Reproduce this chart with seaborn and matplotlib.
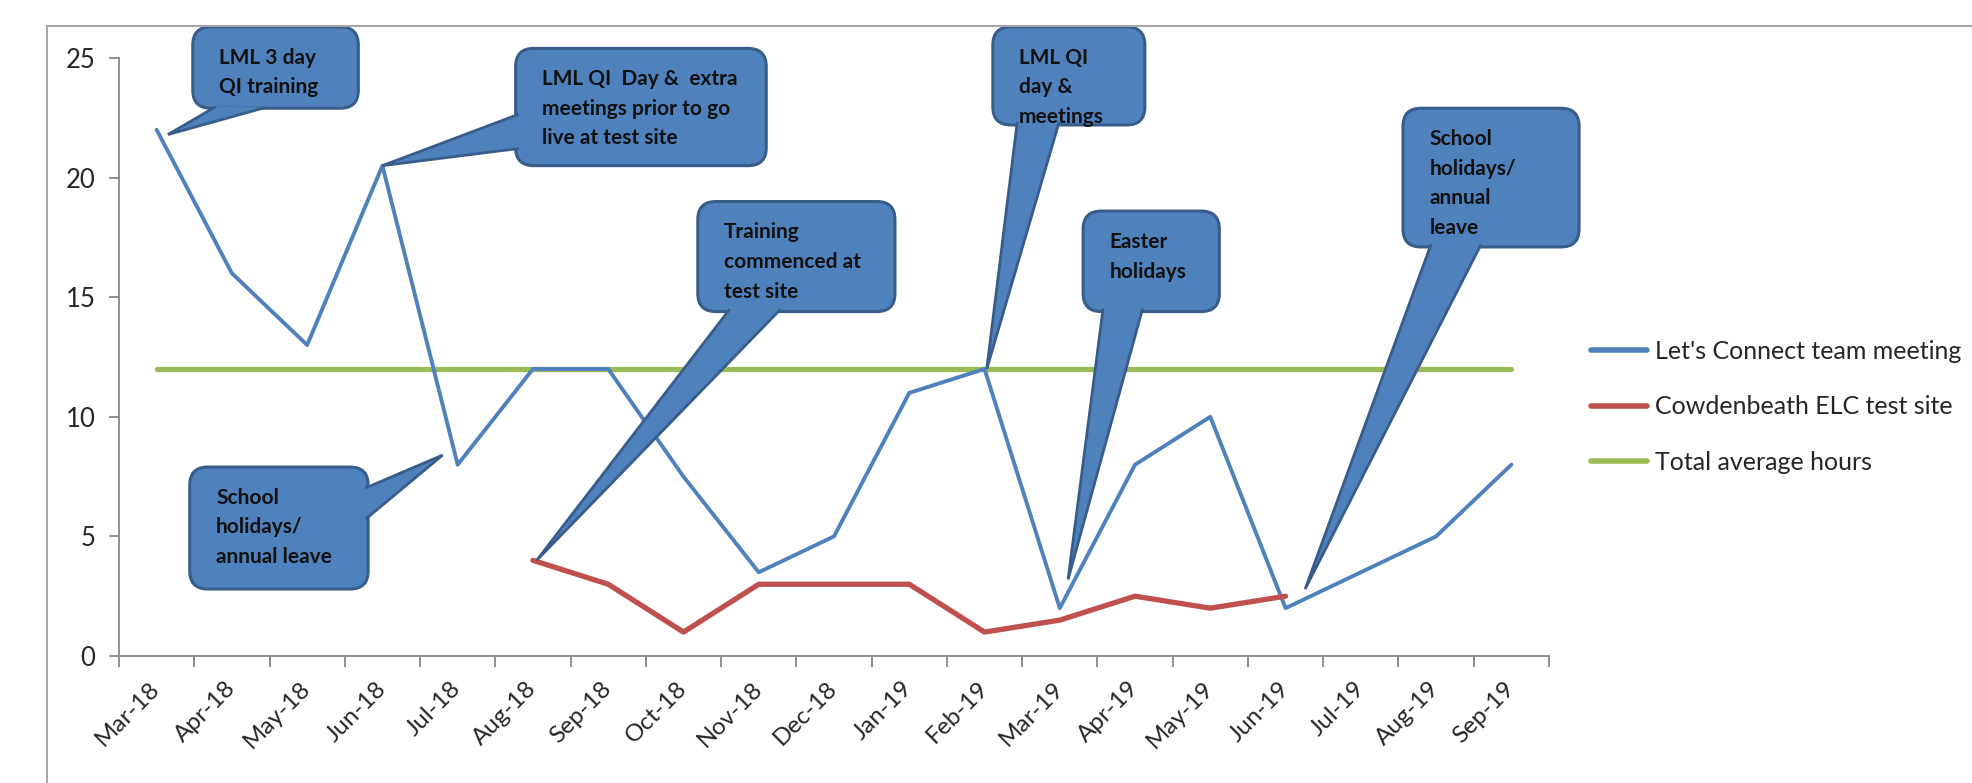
import matplotlib
matplotlib.use("Agg")
import matplotlib.pyplot as plt
from matplotlib.patches import FancyBboxPatch, Polygon
from matplotlib.lines import Line2D
import seaborn as sns
import numpy as np

months = ["Mar-18", "Apr-18", "May-18", "Jun-18", "Jul-18", "Aug-18", "Sep-18",
          "Oct-18", "Nov-18", "Dec-18", "Jan-19", "Feb-19", "Mar-19", "Apr-19",
          "May-19", "Jun-19", "Jul-19", "Aug-19", "Sep-19"]
team_meeting = [22, 16, 13, 20.5, 8, 12, 12, 7.5, 3.5, 5, 11, 12, 2, 8, 10, 2, 3.5, 5, 8]
site_months = ["Aug-18", "Sep-18", "Oct-18", "Nov-18", "Dec-18", "Jan-19",
               "Feb-19", "Mar-19", "Apr-19", "May-19", "Jun-19"]
test_site = [4, 3, 1, 3, 3, 3, 1, 1.5, 2.5, 2, 2.5]
average_hours = [12, 12, 12, 12, 12, 12, 12, 12, 12, 12, 12, 12, 12, 12, 12, 12, 12, 12, 12]

BLUE, RED, GREEN = "#4F81BD", "#C0504D", "#9BBB59"
BOX_FC, BOX_EC = "#4F81BD", "#385D8A"
AXIS_GREY = "#868686"
W, H = 1972, 783

sns.set_style("white")
plt.rcParams["font.family"] = ["Lato", "DejaVu Sans"]

fig = plt.figure(figsize=(W / 100, H / 100), dpi=100)
ax = fig.add_axes([119 / W, 1 - 656 / H, (1549 - 119) / W, (656 - 58) / H])

x_all = np.arange(len(months))
x_site = np.array([months.index(m) for m in site_months])
line_kw = dict(solid_capstyle="round", solid_joinstyle="round", ax=ax)
sns.lineplot(x=x_all, y=team_meeting, color=BLUE, lw=2.8,
             label="Let's Connect team meeting", zorder=3, **line_kw)
sns.lineplot(x=x_site, y=test_site, color=RED, lw=3.8,
             label="Cowdenbeath ELC test site", zorder=3, **line_kw)
sns.lineplot(x=x_all, y=average_hours, color=GREEN, lw=3.8,
             label="Total average hours", zorder=2, **line_kw)

ax.set_xlim(-0.5, len(months) - 0.5)
ax.set_ylim(0, 25)
ax.set_xticks(x_all)
ax.set_xticklabels(months, rotation=45, ha="right", va="center", rotation_mode="anchor")
ax.set_xticks(np.arange(-0.5, len(months), 1), minor=True)
ax.set_yticks(range(0, 26, 5))
ax.tick_params(axis="x", which="major", length=0, pad=21, labelsize=17.5, bottom=True)
ax.tick_params(axis="x", which="minor", length=8, width=1.3, color=AXIS_GREY,
               direction="out", bottom=True)
ax.tick_params(axis="y", length=7, width=1.3, color=AXIS_GREY, direction="out",
               pad=10, labelsize=18.5, left=True)
ax.set_xlabel("")
ax.set_ylabel("")
for side in ["top", "right"]:
    ax.spines[side].set_visible(False)
for side in ["left", "bottom"]:
    ax.spines[side].set_color(AXIS_GREY)
    ax.spines[side].set_linewidth(1.3)

leg = ax.legend(loc="center left", bbox_to_anchor=(1591 / W, 1 - 407 / H),
                bbox_transform=fig.transFigure, frameon=False, fontsize=18,
                handlelength=2.25, handletextpad=0.3, labelspacing=1.3,
                borderaxespad=0, borderpad=0)
for ln in leg.get_lines():
    ln.set_linewidth(4)

# chart-area border (extends past the crop on the right and bottom)
fig.add_artist(Line2D([47 / W, 1], [1 - 26 / H] * 2, transform=fig.transFigure,
                      color="#A6A6A6", lw=1.5))
fig.add_artist(Line2D([47 / W] * 2, [0, 1 - 26 / H], transform=fig.transFigure,
                      color="#A6A6A6", lw=1.5))

# callouts: text, anchor (month, series, dx, dy), box (x0, x1, y0, y1), wedge base
series = {"team": team_meeting, "site": dict(zip(site_months, test_site))}
callouts = [
    ("LML 3 day\nQI training", ("Mar-18", "team", 0.15, -0.2),
     (0.48, 2.68, 22.9, 26.3), [(0.75, 22.9), (1.41, 22.9)]),
    ("LML QI  Day &  extra\nmeetings prior to go\nlive at test site", ("Jun-18", "team", 0, 0),
     (4.77, 8.10, 20.5, 25.4), [(4.77, 22.6), (4.77, 21.2)]),
    ("School\nholidays/\nannual leave", ("Jul-18", "team", -0.2, 0.4),
     (0.44, 2.81, 2.8, 7.9), [(2.81, 7.07), (2.81, 5.81)]),
    ("Training\ncommenced at\ntest site", ("Aug-18", "site", 0.05, 0),
     (7.19, 9.81, 14.4, 19.0), [(7.59, 14.4), (8.26, 14.4)]),
    ("LML QI\nday &\nmeetings", ("Feb-19", "team", 0.03, 0),
     (11.11, 13.13, 22.2, 26.3), [(11.43, 22.2), (11.98, 22.2)]),
    ("Easter\nholidays", ("Mar-19", "team", 0.11, 1.2),
     (12.31, 14.12, 14.4, 18.6), [(12.57, 14.4), (13.09, 14.4)]),
    ("School\nholidays/\nannual\nleave", ("Jun-19", "team", 0.26, 0.8),
     (16.56, 18.90, 17.1, 22.9), [(16.92, 17.1), (17.58, 17.1)]),
]

to_px = ax.transData
px_x = to_px.transform((1, 0))[0] - to_px.transform((0, 0))[0]
px_y = to_px.transform((0, 1))[1] - to_px.transform((0, 0))[1]


def push(p, tip, px=3):
    P, T = to_px.transform(p), to_px.transform(tip)
    d = (P - T) / np.hypot(*(P - T))
    return to_px.inverted().transform(P + d * px)


for text, (month, key, dx, dy), (x0, x1, y0, y1), base in callouts:
    i = months.index(month)
    val = series[key][i] if key == "team" else series[key][month]
    tip = (i + dx, val + dy)
    box = FancyBboxPatch((x0, y0), x1 - x0, y1 - y0,
                         boxstyle="round,pad=0,rounding_size=0.24",
                         mutation_aspect=px_x / px_y, fc=BOX_FC, ec=BOX_EC,
                         lw=2.2, zorder=5, clip_on=False)
    ax.add_patch(box)
    wedge = Polygon([push(base[0], tip), tip, push(base[1], tip)], closed=False,
                    fc=BOX_FC, ec=BOX_EC, lw=2.0, zorder=6, clip_on=False)
    ax.add_patch(wedge)
    ax.annotate(text, xy=(x0, y1), xytext=(19, -15), textcoords="offset points",
                ha="left", va="top", fontsize=15, fontweight="bold", color="#111111",
                linespacing=1.6, zorder=8, annotation_clip=False)

fig.savefig("out.png", dpi=100, facecolor="white")
